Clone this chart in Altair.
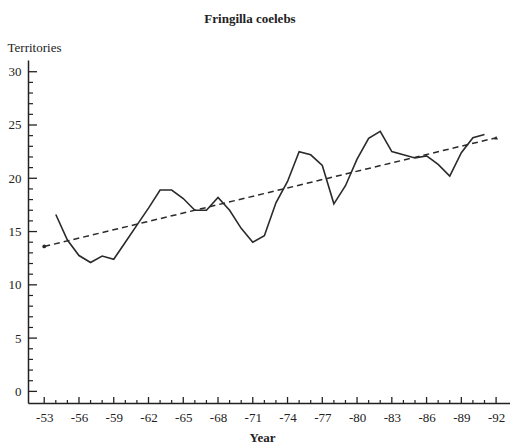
import altair as alt
import pandas as pd

# ---- data ----
years = list(range(1954, 1992))
territories = [16.6, 14.2, 12.75, 12.1, 12.7, 12.4, 14.0, 15.6, 17.2, 18.9,
               18.9, 18.1, 17.0, 17.0, 18.2, 17.0, 15.3, 14.0, 14.6, 17.7,
               19.7, 22.5, 22.2, 21.2, 17.6, 19.3, 21.8, 23.75, 24.4, 22.5,
               22.2, 21.9, 22.1, 21.3, 20.2, 22.4, 23.8, 24.1]
trend_years = [1953, 1992]
trend_values = [13.6, 23.8]
x_tick_labels = list(range(1953, 1993, 3))
y_tick_labels = [0, 5, 10, 15, 20, 25, 30]
x_minor = list(range(1953, 1993))
y_minor = list(range(0, 31))

FONT = "Liberation Serif"
INK = "#222222"
W, H = 482, 343

df_line = pd.DataFrame({"year": years, "val": territories})
df_trend = pd.DataFrame({"year": trend_years, "val": trend_values})
df_xmaj = pd.DataFrame({"year": x_tick_labels})
df_xmin = pd.DataFrame({"year": [y for y in x_minor if y not in x_tick_labels]})
df_ymaj = pd.DataFrame({"val": y_tick_labels})
df_ymin = pd.DataFrame({"val": [v for v in y_minor if v not in y_tick_labels]})

xscale = alt.Scale(domain=[1951.6, 1993.2], nice=False, zero=False)
yscale = alt.Scale(domain=[-1.09, 31.1], nice=False, zero=False)

xaxis = alt.Axis(values=x_tick_labels, labelExpr="'-' + (datum.value - 1900)",
                 ticks=False, grid=False, domain=True, domainColor=INK, domainWidth=1.5,
                 labelPadding=8, labelFont=FONT, labelFontSize=13, labelColor=INK,
                 title="Year", titleFont=FONT, titleFontSize=13, titleFontWeight="bold",
                 titleColor=INK, titleX=234, titleY=38, titleBaseline="alphabetic",
                 titleAnchor="start", titleAlign="center", labelFlush=False)
yaxis = alt.Axis(values=y_tick_labels, ticks=False, grid=False, domain=True,
                 domainColor=INK, domainWidth=1.5, labelPadding=7, labelFont=FONT,
                 labelFontSize=13, labelColor=INK,
                 title="Territories", titleFont=FONT, titleFontSize=13,
                 titleFontWeight="normal", titleColor=INK, titleAngle=0,
                 titleX=-21, titleY=-9, titleAlign="left", titleBaseline="alphabetic",
                 labelFlush=False)

X = alt.X("year:Q", scale=xscale, axis=xaxis)
Y = alt.Y("val:Q", scale=yscale, axis=yaxis)

line = alt.Chart(df_line).mark_line(color="#2a2a2a", strokeWidth=1.6).encode(x=X, y=Y)
trend = alt.Chart(df_trend).mark_line(color="#2a2a2a", strokeWidth=1.5,
                                      strokeDash=[6, 4]).encode(x=X, y=Y)
p_start = alt.Chart(df_trend.iloc[[0]]).mark_point(shape="circle", filled=True, size=14,
                                                   color="#2a2a2a", opacity=1).encode(x=X, y=Y)
p_end = alt.Chart(df_trend.iloc[[1]]).mark_point(shape="triangle-up", filled=True, size=16,
                                                 color="#2a2a2a", opacity=1).encode(x=X, y=Y)

xt_major = alt.Chart(df_xmaj).mark_rule(color=INK, strokeWidth=1.3).encode(
    x=X, y=alt.value(H), y2=alt.value(H - 6))
xt_minor = alt.Chart(df_xmin).mark_rule(color=INK, strokeWidth=1.2).encode(
    x=X, y=alt.value(H), y2=alt.value(H - 3))
yt_major = alt.Chart(df_ymaj).mark_rule(color=INK, strokeWidth=1.3).encode(
    y=Y, x=alt.value(0), x2=alt.value(9))
yt_minor = alt.Chart(df_ymin).mark_rule(color=INK, strokeWidth=1.2).encode(
    y=Y, x=alt.value(0), x2=alt.value(5))

chart = alt.layer(xt_major, xt_minor, yt_major, yt_minor, trend, line, p_start, p_end).properties(
    width=W, height=H,
    background="white",
    padding={"left": 28, "top": 60, "right": 0, "bottom": 43},
    autosize=alt.AutoSizeParams(type="none"),
    title=alt.TitleParams("Fringilla coelebs", font=FONT, fontSize=13, fontWeight="bold",
                          color=INK, anchor="middle", dx=-19, offset=15),
).configure_view(strokeWidth=0, stroke="transparent")

chart.save("out.html", embed_options={"renderer": "svg", "actions": False})
